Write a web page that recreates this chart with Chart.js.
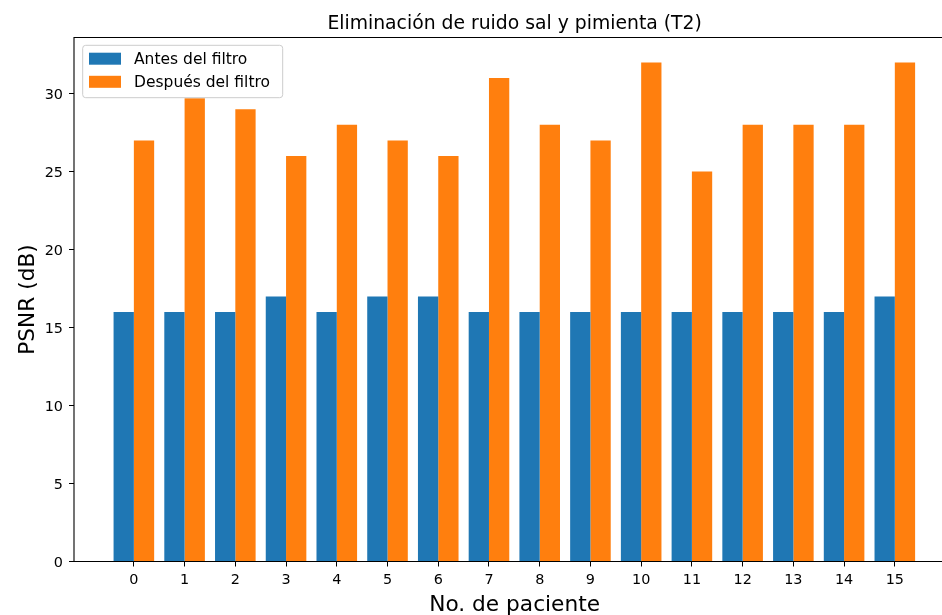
<!DOCTYPE html>
<html>
<head>
<meta charset="utf-8">
<script src="https://cdn.jsdelivr.net/npm/chart.js@4/dist/chart.umd.min.js"></script>
<style>
  html, body { margin: 0; padding: 0; background: #fff; }
  #wrap { width: 942px; height: 615px; position: relative; }
</style>
</head>
<body>
<div id="wrap"><canvas id="c" width="942" height="615"></canvas></div>
<script>
// Patients (x categories) and PSNR values per series
const patients = [0, 1, 2, 3, 4, 5, 6, 7, 8, 9, 10, 11, 12, 13, 14, 15];
const psnrBefore = [16, 16, 16, 17, 16, 17, 17, 16, 16, 16, 16, 16, 16, 16, 16, 17];
const psnrAfter = [27, 29.7, 29, 26, 28, 27, 26, 31, 28, 27, 32, 25, 28, 28, 28, 32];
const yTickValues = [0, 5, 10, 15, 20, 25, 30];
const seriesNames = ['Antes del filtro', 'Después del filtro'];
const seriesColors = ['#1f77b4', '#ff7f0e'];
const titleText = 'Eliminación de ruido sal y pimienta (T2)';
const xTitle = 'No. de paciente';
const yTitle = 'PSNR (dB)';

const FONT = '"DejaVu Sans", sans-serif';

// Frame, titles and legend drawn in matplotlib style
const decor = {
  id: 'decor',
  afterDatasetsDraw(chart) {
    const ctx = chart.ctx;
    const a = chart.chartArea;
    ctx.save();
    // spines (the right one falls past the canvas edge)
    ctx.strokeStyle = '#000';
    ctx.lineWidth = 1.1;
    ctx.beginPath();
    ctx.moveTo(a.right + 2, a.top);
    ctx.lineTo(a.left, a.top);
    ctx.lineTo(a.left, a.bottom);
    ctx.lineTo(a.right + 2, a.bottom);
    ctx.stroke();

    // axes centre including the part of the axes beyond the canvas
    const xs = chart.scales.x;
    const axisCenter = (xs.getPixelForValue(xs.min) + xs.getPixelForValue(16.19)) / 2;

    ctx.fillStyle = '#000';
    ctx.textAlign = 'center';
    ctx.textBaseline = 'alphabetic';
    ctx.font = '18.8px ' + FONT;
    ctx.fillText(titleText, axisCenter, 28.5);

    ctx.font = '21.7px ' + FONT;
    ctx.fillText(xTitle, axisCenter, 611);

    ctx.save();
    ctx.translate(34, (a.top + a.bottom) / 2);
    ctx.rotate(-Math.PI / 2);
    ctx.fillText(yTitle, 0, 0);
    ctx.restore();

    // legend
    const lx = 82.7, ly = 45.3, lw = 200, lh = 52.4, r = 3;
    ctx.beginPath();
    ctx.moveTo(lx + r, ly);
    ctx.arcTo(lx + lw, ly, lx + lw, ly + lh, r);
    ctx.arcTo(lx + lw, ly + lh, lx, ly + lh, r);
    ctx.arcTo(lx, ly + lh, lx, ly, r);
    ctx.arcTo(lx, ly, lx + lw, ly, r);
    ctx.closePath();
    ctx.fillStyle = 'rgba(255,255,255,0.8)';
    ctx.fill();
    ctx.strokeStyle = '#cccccc';
    ctx.lineWidth = 1;
    ctx.stroke();

    ctx.font = '15.5px ' + FONT;
    ctx.textAlign = 'left';
    const rows = [58.7, 81.8];
    seriesNames.forEach((name, i) => {
      ctx.fillStyle = seriesColors[i];
      ctx.fillRect(89, rows[i] - 6, 32, 12);
      ctx.fillStyle = '#000';
      ctx.fillText(name, 134, rows[i] + 5.6);
    });
    ctx.restore();
  }
};

new Chart(document.getElementById('c'), {
  type: 'bar',
  data: {
    datasets: [
      {
        label: seriesNames[0],
        data: patients.map((p, i) => ({ x: p, y: psnrBefore[i] })),
        backgroundColor: seriesColors[0],
        borderWidth: 0
      },
      {
        label: seriesNames[1],
        data: patients.map((p, i) => ({ x: p, y: psnrAfter[i] })),
        backgroundColor: seriesColors[1],
        borderWidth: 0
      }
    ]
  },
  options: {
    responsive: false,
    animation: false,
    categoryPercentage: 0.8,
    barPercentage: 1.0,
    layout: { padding: { left: 0, top: 37.5, right: 0, bottom: 0 } },
    plugins: {
      legend: { display: false },
      title: { display: false },
      tooltip: { enabled: false }
    },
    scales: {
      x: {
        type: 'linear',
        offset: false,
        min: -1.18,
        max: 15.93,
        afterBuildTicks: s => { s.ticks = patients.map(v => ({ value: v })); },
        afterFit: s => { s.height = 53.5; },
        grid: { offset: false, drawOnChartArea: false, drawTicks: true, tickLength: 5, color: '#000', lineWidth: 1 },
        border: { display: false },
        ticks: { color: '#000', font: { family: FONT, size: 14.4 }, padding: 5, maxRotation: 0, autoSkip: false }
      },
      y: {
        min: 0,
        max: 33.6,
        afterBuildTicks: s => { s.ticks = yTickValues.map(v => ({ value: v })); },
        afterFit: s => { s.width = 74; },
        grid: { drawOnChartArea: false, drawTicks: true, tickLength: 5, color: '#000', lineWidth: 1 },
        border: { display: false },
        ticks: { color: '#000', font: { family: FONT, size: 14.4 }, padding: 6, labelOffset: 1.5 }
      }
    }
  },
  plugins: [decor]
});
</script>
</body>
</html>
